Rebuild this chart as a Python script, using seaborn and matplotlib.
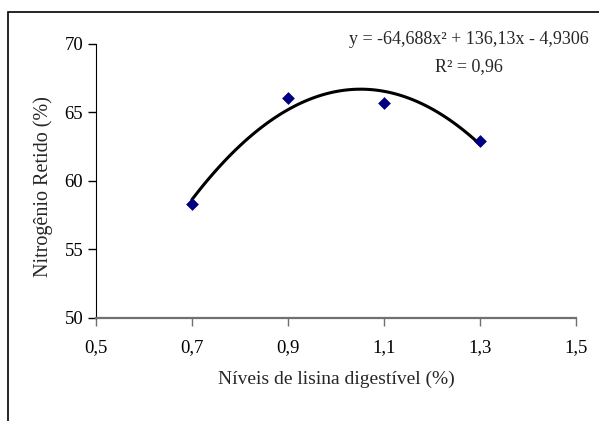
import numpy as np
import pandas as pd
import matplotlib
matplotlib.use("Agg")
import matplotlib.pyplot as plt
import seaborn as sns
from matplotlib.patches import Rectangle

lisina = [0.7, 0.9, 1.1, 1.3]
nitrogenio = [58.35, 66.05, 65.7, 62.95]

xticks = [0.5, 0.7, 0.9, 1.1, 1.3, 1.5]
xticklabels = ["0,5", "0,7", "0,9", "1,1", "1,3", "1,5"]
yticks = [50, 55, 60, 65, 70]
yticklabels = ["50", "55", "60", "65", "70"]

equacao = "y = -64,688x² + 136,13x - 4,9306"
r2 = "R² = 0,96"

sns.set_style("ticks")
plt.rcParams["font.family"] = ["Liberation Serif", "DejaVu Serif"]
plt.rcParams["font.size"] = 13.5

df = pd.DataFrame({"x": lisina, "y": nitrogenio})

fig = plt.figure(figsize=(5.99, 4.21), dpi=100)
ax = fig.add_axes([0.160, 0.2447, 0.8016, 0.6508])

sns.regplot(data=df, x="x", y="y", order=2, ci=None, scatter=False, ax=ax,
            line_kws={"color": "black", "lw": 2.2})
sns.scatterplot(data=df, x="x", y="y", marker="D", s=36, color="#000080",
                edgecolor="#000080", ax=ax, zorder=3)

ax.set_xlim(0.5, 1.5)
ax.set_ylim(50, 70)
ax.set_xticks(xticks)
ax.set_xticklabels(xticklabels)
ax.set_yticks(yticks)
ax.set_yticklabels(yticklabels)
ax.set_xlabel("Níveis de lisina digestível (%)", fontsize=14, labelpad=11)
ax.set_ylabel("Nitrogênio Retido (%)", fontsize=14.5)
ax.yaxis.set_label_coords(-0.09, 0.48)

sns.despine(ax=ax)
ax.spines["left"].set_color("black")
ax.spines["bottom"].set_color("#707070")
ax.spines["bottom"].set_linewidth(1.6)
ax.tick_params(axis="x", colors="#707070", labelcolor="black", length=6, width=1, pad=9)
ax.tick_params(axis="y", colors="black", length=6, width=1, pad=3)

ax.text(0.777, 1.015, equacao, transform=ax.transAxes, ha="center", va="center", fontsize=13)
ax.text(0.777, 0.918, r2, transform=ax.transAxes, ha="center", va="center", fontsize=13)

top = 1 - 12 / 421
fig.patches.append(Rectangle((8 / 599, -0.2), 1.2, top + 0.2,
                             transform=fig.transFigure, fill=False,
                             edgecolor="black", lw=1.2))

fig.savefig("out.png", dpi=100)
